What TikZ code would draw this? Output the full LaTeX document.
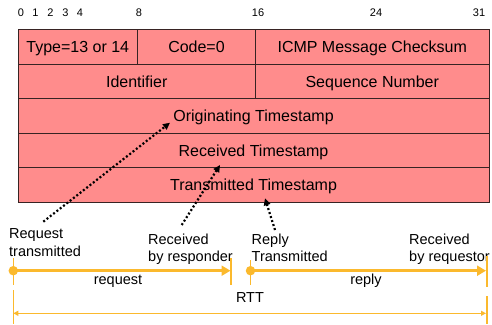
\documentclass[tikz,border=0pt]{standalone}
\usepackage{fontspec}
\setmainfont{Liberation Sans}
\usetikzlibrary{arrows.meta}
\definecolor{fieldred}{RGB}{255,140,140}
\definecolor{fieldline}{RGB}{55,35,35}
\definecolor{tlorange}{RGB}{251,185,45}
\tikzset{
  field/.style={draw=fieldline, fill=fieldred, line width=1pt, inner sep=0pt, outer sep=0pt,
    minimum height=34.5pt, text height=11.5pt, text depth=0pt, font=\fontsize{16}{18}\selectfont, text=black},
  bitlbl/.style={font=\fontsize{11}{12}\selectfont, inner sep=0pt},
  evlbl/.style={font=\fontsize{14.5}{17.4}\selectfont, align=left, inner sep=0pt, anchor=base west},
  seglbl/.style={font=\fontsize{14.5}{17}\selectfont, inner sep=0pt},
  ptr/.style={line width=2.2pt, dash pattern=on 2pt off 2.2pt, -{Triangle[length=7pt,width=6.5pt]}, black},
  tlarrow/.style={draw=tlorange, line width=3.5pt, -{Triangle[length=9pt,width=10pt]}},
  rttarrow/.style={draw=tlorange, line width=1.3pt, {Triangle[length=5pt,width=5pt]}-{Triangle[length=5pt,width=5pt]}},
  tick/.style={draw=tlorange, line width=1.2pt},
  tldot/.style={circle, fill=tlorange, inner sep=0pt, minimum size=9.5pt},
}
\begin{document}
\begin{tikzpicture}[x=1pt,y=-1pt]
\useasboundingbox (0,0) rectangle (492,324);
% bit numbers
\node[bitlbl] (b0) at (21,13) {0};
\node[bitlbl] (b1) at (35.5,13) {1};
\node[bitlbl] (b2) at (50.5,13) {2};
\node[bitlbl] (b3) at (65.5,13) {3};
\node[bitlbl] (b4) at (80,13) {4};
\node[bitlbl] (b8) at (139,13) {8};
\node[bitlbl] (b16) at (258,13) {16};
\node[bitlbl] (b24) at (376,13) {24};
\node[bitlbl] (b31) at (479,13) {31};
% fields
\node[field, minimum width=119.5pt] (type) at (77.75,46.75) {Type=13 or 14};
\node[field, minimum width=118pt] (code) at (196.5,46.75) {Code=0};
\node[field, minimum width=233.5pt] (cks) at (372.25,46.75) {ICMP Message Checksum};
\node[field, minimum width=237.5pt] (ident) at (136.75,81.25) {Identifier};
\node[field, minimum width=233.5pt] (seq) at (372.25,81.25) {Sequence Number};
\node[field, minimum width=471pt] (orig) at (253.5,115.75) {Originating Timestamp};
\node[field, minimum width=471pt] (recv) at (253.5,150.25) {Received Timestamp};
\node[field, minimum width=471pt] (trans) at (253.5,184.75) {Transmitted Timestamp};
% event labels (base = last line)
\node[evlbl] (lreq) at (9,256) {Request\\transmitted};
\node[evlbl] (lrcv) at (148,261.5) {Received\\by responder};
\node[evlbl] (lrep) at (251.5,261.5) {Reply\\Transmitted};
\node[evlbl] (lrq) at (409,261.5) {Received\\by requestor};
% pointers
\coordinate (p1s) at (43.3,221.7);
\coordinate (p1e) at (170,122.7);
\coordinate (p2s) at (181.7,225);
\coordinate (p2e) at (220,165);
\coordinate (p3s) at (275,230);
\coordinate (p3e) at (265,198.3);
\draw[ptr] (p1s) -- (p1e);
\draw[ptr] (p2s) -- (p2e);
\draw[ptr] (p3s) -- (p3e);
% timeline
\coordinate (t1a) at (13.3,258);
\coordinate (t1b) at (13.3,285);
\coordinate (t2a) at (231,258);
\coordinate (t2b) at (231,285);
\coordinate (t3a) at (250.5,260);
\coordinate (t3b) at (250.5,285);
\coordinate (t4a) at (487,256);
\coordinate (t4b) at (487,287);
\coordinate (t5a) at (13.3,290);
\coordinate (t5b) at (13.3,324);
\coordinate (t6a) at (487,296);
\coordinate (t6b) at (487,324);
\draw[tick] (t1a) -- (t1b);
\draw[tick] (t2a) -- (t2b);
\draw[tick] (t3a) -- (t3b);
\draw[tick] (t4a) -- (t4b);
\draw[tick] (t5a) -- (t5b);
\draw[tick] (t6a) -- (t6b);
\node[tldot] (d1) at (13.3,270.7) {};
\node[tldot] (d2) at (250.5,270.7) {};
\coordinate (e1) at (230.5,270.7);
\coordinate (e2) at (486,270.7);
\draw[tlarrow] (d1.center) -- (e1);
\draw[tlarrow] (d2.center) -- (e2);
\coordinate (r1) at (13.3,313.3);
\coordinate (r2) at (486,313.3);
\draw[rttarrow] (r1) -- (r2);
\node[seglbl] (lrequest) at (118,281) {request};
\node[seglbl] (lreply) at (366,281) {reply};
\node[seglbl] (lrtt) at (250,298) {RTT};
\end{tikzpicture}
\end{document}
